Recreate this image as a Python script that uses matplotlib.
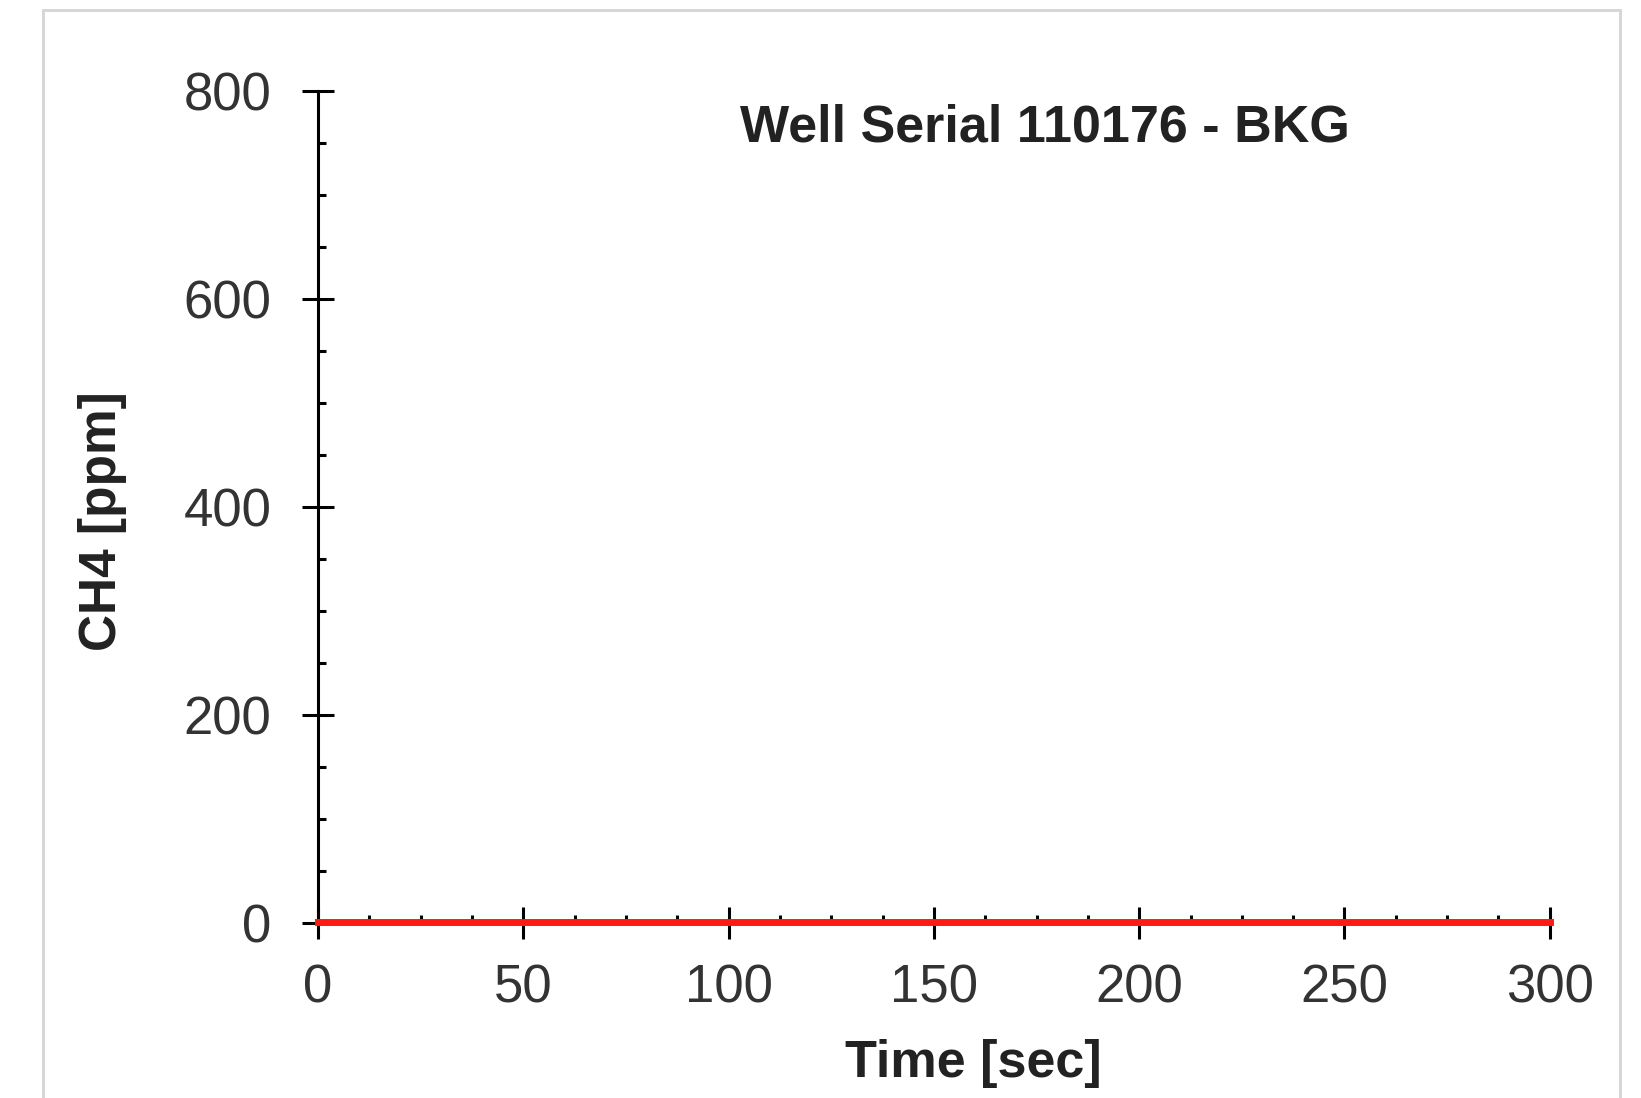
import matplotlib
matplotlib.use("Agg")
import matplotlib.pyplot as plt
from matplotlib.patches import Rectangle
from matplotlib.ticker import MultipleLocator

# background CH4 reading, essentially flat at zero
time_sec = [0, 10, 30, 60, 90, 120, 150, 180, 210, 240, 270, 300]
ch4_ppm = [1, 1, 1, 1, 1, 1, 1, 1, 1, 1, 1, 1]

title = "Well Serial 110176 - BKG"
x_ticks = [0, 50, 100, 150, 200, 250, 300]
y_ticks = [0, 200, 400, 600, 800]

plt.rcParams["font.family"] = ["Liberation Sans", "DejaVu Sans"]

fig = plt.figure(figsize=(16.41, 10.98), dpi=100)
fig.patches.append(Rectangle((0.026, -0.05), 0.961, 1.041, transform=fig.transFigure,
                             fill=False, edgecolor="#d4d4d4", linewidth=2))

ax = fig.add_axes([0.1938, 0.1594, 0.7506, 0.7577])
ax.plot(time_sec, ch4_ppm, color="#ff1a1a", linewidth=5, clip_on=False, zorder=5)

ax.set_xlim(0, 300)
ax.set_ylim(0, 800)
ax.set_xticks(x_ticks)
ax.set_yticks(y_ticks)
ax.xaxis.set_minor_locator(MultipleLocator(12.5))
ax.yaxis.set_minor_locator(MultipleLocator(50))

for side in ["top", "right"]:
    ax.spines[side].set_visible(False)
for side in ["left", "bottom"]:
    ax.spines[side].set_linewidth(2.2)

ax.tick_params(which="major", direction="inout", length=23, width=2.2,
               labelsize=38, labelcolor="#333333")
ax.tick_params(which="minor", direction="in", length=6, width=2.2)
ax.tick_params(axis="x", which="major", pad=18)
ax.tick_params(axis="y", which="major", pad=22)

ax.set_xlabel("Time [sec]", fontsize=37.5, fontweight="bold", color="#222222")
ax.set_ylabel("CH4 [ppm]", fontsize=37, fontweight="bold", color="#222222")
ax.xaxis.set_label_coords(0.532, -0.14)
ax.yaxis.set_label_coords(-0.155, 0.483)
ax.text(0.59, 0.955, title, transform=ax.transAxes, ha="center", va="center",
        fontsize=37.5, fontweight="bold", color="#222222")

fig.savefig("out.png", dpi=100)
